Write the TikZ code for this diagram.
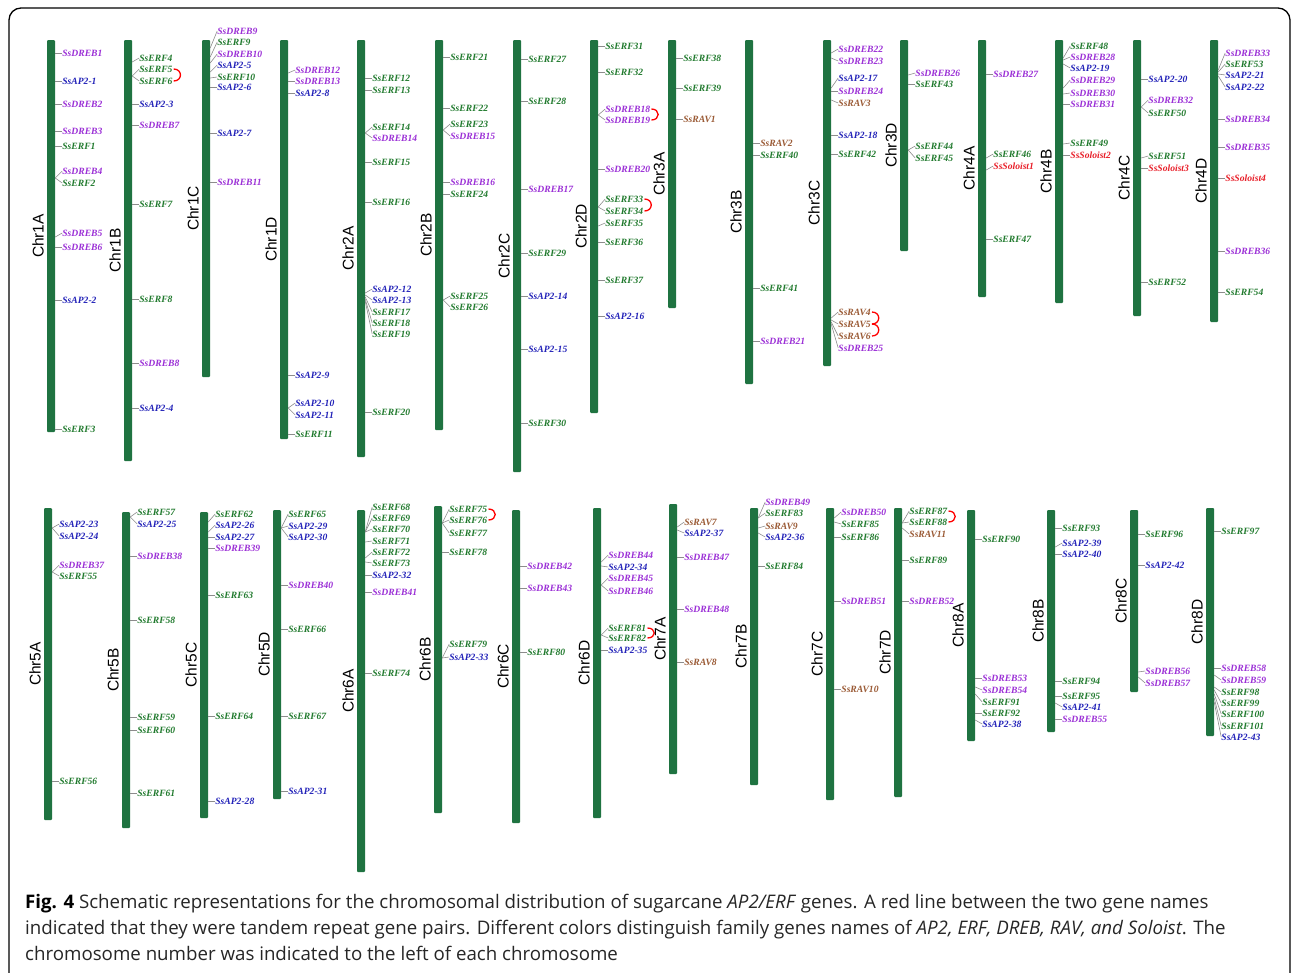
\documentclass[tikz,border=0pt]{standalone}
\usepackage{fontspec}
\setmainfont{Liberation Serif}
\newfontfamily\chrfont{Liberation Sans}
\newfontfamily\capfont{Open Sans}
\usetikzlibrary{positioning}

\definecolor{bargreen}{HTML}{1F7341}
\definecolor{erfgreen}{HTML}{217A2E}
\definecolor{drebpurple}{HTML}{9B30D6}
\definecolor{apblue}{HTML}{2222B8}
\definecolor{ravbrown}{HTML}{9A5A35}
\definecolor{solred}{HTML}{E8202A}
\definecolor{tickgray}{HTML}{8C8C8C}

% chromosome: name, x, top, bottom
\newcommand{\chrom}[4]{%
  \node[chrbar, minimum height={(#4-#3)*1pt}] (#1) at (#2,{(#3+#4)/2}) {};
  \node[chrlabel] (#1-lab) at ([xshift=-13pt]#1.center) {#1};
}
% gene: chromosome, y on bar, y of label, family style, name
\newcommand{\gene}[5]{%
  \node[#4] (#5) at ([xshift=7pt]#1.east |- 0,#3) {#5};
  \draw[tick] (#1.east |- 0,#2) -- (#5.west);
}
% tandem pair
\newcommand{\tandem}[2]{%
  \draw[tandem] ([xshift=1pt]#1.east) .. controls +(9,0) and +(9,0) .. ([xshift=1pt]#2.east);
}

\begin{document}
\begin{tikzpicture}[x=1pt, y=-1pt,
  chrbar/.style={fill=bargreen, draw=none, minimum width=8pt, inner sep=0pt, rounded corners=1pt},
  chrlabel/.style={font=\chrfont\fontsize{15.5}{16}\selectfont, rotate=90, inner sep=0pt},
  genelab/.style={font=\fontsize{9.6}{10}\selectfont\bfseries\itshape, anchor=west, inner sep=0pt},
  erf/.style={genelab, text=erfgreen},
  dreb/.style={genelab, text=drebpurple},
  ap/.style={genelab, text=apblue},
  rav/.style={genelab, text=ravbrown},
  sol/.style={genelab, text=solred},
  tick/.style={draw=tickgray, line width=0.6pt},
  tandem/.style={draw=red, line width=1.3pt},
  caption/.style={font=\capfont\fontsize{18.7}{22}\selectfont, text=black!85, anchor=base west, inner sep=0pt}]
\useasboundingbox (0,0) rectangle (1292,972);
\begin{scope}
  \clip (0,0) rectangle (1292,972);
  \draw[line width=1.3pt, rounded corners=12pt] (9,8) rectangle (1290,1000);
\end{scope}

% ---- row 1
\chrom{Chr1A}{51}{40}{432}
\gene{Chr1A}{53}{53}{dreb}{SsDREB1}
\gene{Chr1A}{81}{81}{ap}{SsAP2-1}
\gene{Chr1A}{104}{104}{dreb}{SsDREB2}
\gene{Chr1A}{131}{131}{dreb}{SsDREB3}
\gene{Chr1A}{146}{146}{erf}{SsERF1}
\gene{Chr1A}{178}{171}{dreb}{SsDREB4}
\gene{Chr1A}{178}{183}{erf}{SsERF2}
\gene{Chr1A}{237}{233}{dreb}{SsDREB5}
\gene{Chr1A}{247}{247}{dreb}{SsDREB6}
\gene{Chr1A}{300}{300}{ap}{SsAP2-2}
\gene{Chr1A}{429}{429}{erf}{SsERF3}

\chrom{Chr1B}{128}{40}{461}
\gene{Chr1B}{62}{58}{erf}{SsERF4}
\gene{Chr1B}{76}{69}{erf}{SsERF5}
\gene{Chr1B}{76}{81}{erf}{SsERF6}
\tandem{SsERF5}{SsERF6}
\gene{Chr1B}{104}{104}{ap}{SsAP2-3}
\gene{Chr1B}{125}{125}{dreb}{SsDREB7}
\gene{Chr1B}{204}{204}{erf}{SsERF7}
\gene{Chr1B}{299}{299}{erf}{SsERF8}
\gene{Chr1B}{363}{363}{dreb}{SsDREB8}
\gene{Chr1B}{408}{408}{ap}{SsAP2-4}

\chrom{Chr1C}{206}{40}{377}
\gene{Chr1C}{48}{31}{dreb}{SsDREB9}
\gene{Chr1C}{57}{42}{erf}{SsERF9}
\gene{Chr1C}{63}{54}{dreb}{SsDREB10}
\gene{Chr1C}{72}{65}{ap}{SsAP2-5}
\gene{Chr1C}{78}{77}{erf}{SsERF10}
\gene{Chr1C}{87}{87}{ap}{SsAP2-6}
\gene{Chr1C}{133}{133}{ap}{SsAP2-7}
\gene{Chr1C}{182}{182}{dreb}{SsDREB11}

\chrom{Chr1D}{284}{40}{439}
\gene{Chr1D}{73}{70}{dreb}{SsDREB12}
\gene{Chr1D}{81}{81}{dreb}{SsDREB13}
\gene{Chr1D}{93}{93}{ap}{SsAP2-8}
\gene{Chr1D}{375}{375}{ap}{SsAP2-9}
\gene{Chr1D}{408}{403}{ap}{SsAP2-10}
\gene{Chr1D}{408}{415}{ap}{SsAP2-11}
\gene{Chr1D}{434}{434}{erf}{SsERF11}

\chrom{Chr2A}{361}{40}{457}
\gene{Chr2A}{78}{78}{erf}{SsERF12}
\gene{Chr2A}{90}{90}{erf}{SsERF13}
\gene{Chr2A}{133}{127}{erf}{SsERF14}
\gene{Chr2A}{133}{138}{dreb}{SsDREB14}
\gene{Chr2A}{162}{162}{erf}{SsERF15}
\gene{Chr2A}{202}{202}{erf}{SsERF16}
\gene{Chr2A}{293}{289}{ap}{SsAP2-12}
\gene{Chr2A}{295}{300}{ap}{SsAP2-13}
\gene{Chr2A}{297}{312}{erf}{SsERF17}
\gene{Chr2A}{299}{323}{erf}{SsERF18}
\gene{Chr2A}{301}{334}{erf}{SsERF19}
\gene{Chr2A}{412}{412}{erf}{SsERF20}

\chrom{Chr2B}{439}{40}{430}
\gene{Chr2B}{57}{57}{erf}{SsERF21}
\gene{Chr2B}{108}{108}{erf}{SsERF22}
\gene{Chr2B}{130}{124}{erf}{SsERF23}
\gene{Chr2B}{130}{136}{dreb}{SsDREB15}
\gene{Chr2B}{182}{182}{dreb}{SsDREB16}
\gene{Chr2B}{194}{194}{erf}{SsERF24}
\gene{Chr2B}{300}{296}{erf}{SsERF25}
\gene{Chr2B}{300}{307}{erf}{SsERF26}

\chrom{Chr2C}{517}{40}{472}
\gene{Chr2C}{59}{59}{erf}{SsERF27}
\gene{Chr2C}{101}{101}{erf}{SsERF28}
\gene{Chr2C}{189}{189}{dreb}{SsDREB17}
\gene{Chr2C}{253}{253}{erf}{SsERF29}
\gene{Chr2C}{296}{296}{ap}{SsAP2-14}
\gene{Chr2C}{349}{349}{ap}{SsAP2-15}
\gene{Chr2C}{423}{423}{erf}{SsERF30}

\chrom{Chr2D}{594}{40}{413}
\gene{Chr2D}{46}{46}{erf}{SsERF31}
\gene{Chr2D}{72}{72}{erf}{SsERF32}
\gene{Chr2D}{115}{109}{dreb}{SsDREB18}
\gene{Chr2D}{115}{120}{dreb}{SsDREB19}
\tandem{SsDREB18}{SsDREB19}
\gene{Chr2D}{169}{169}{dreb}{SsDREB20}
\gene{Chr2D}{207}{199}{erf}{SsERF33}
\gene{Chr2D}{207}{211}{erf}{SsERF34}
\tandem{SsERF33}{SsERF34}
\gene{Chr2D}{226}{223}{erf}{SsERF35}
\gene{Chr2D}{242}{242}{erf}{SsERF36}
\gene{Chr2D}{280}{280}{erf}{SsERF37}
\gene{Chr2D}{316}{316}{ap}{SsAP2-16}

\chrom{Chr3A}{672}{40}{308}
\gene{Chr3A}{58}{58}{erf}{SsERF38}
\gene{Chr3A}{88}{88}{erf}{SsERF39}
\gene{Chr3A}{119}{119}{rav}{SsRAV1}

\chrom{Chr3B}{749}{40}{384}
\gene{Chr3B}{143}{143}{rav}{SsRAV2}
\gene{Chr3B}{155}{155}{erf}{SsERF40}
\gene{Chr3B}{288}{288}{erf}{SsERF41}
\gene{Chr3B}{341}{341}{dreb}{SsDREB21}

\chrom{Chr3C}{827}{40}{366}
\gene{Chr3C}{53}{49}{dreb}{SsDREB22}
\gene{Chr3C}{58}{61}{dreb}{SsDREB23}
\gene{Chr3C}{88}{78}{ap}{SsAP2-17}
\gene{Chr3C}{91}{91}{dreb}{SsDREB24}
\gene{Chr3C}{100}{103}{rav}{SsRAV3}
\gene{Chr3C}{135}{135}{ap}{SsAP2-18}
\gene{Chr3C}{154}{154}{erf}{SsERF42}
\gene{Chr3C}{318}{312}{rav}{SsRAV4}
\gene{Chr3C}{320}{324}{rav}{SsRAV5}
\gene{Chr3C}{322}{336}{rav}{SsRAV6}
\gene{Chr3C}{324}{348}{dreb}{SsDREB25}
\tandem{SsRAV4}{SsRAV5}
\tandem{SsRAV5}{SsRAV6}

\chrom{Chr3D}{904}{40}{251}
\gene{Chr3D}{75}{73}{dreb}{SsDREB26}
\gene{Chr3D}{84}{84}{erf}{SsERF43}
\gene{Chr3D}{150}{146}{erf}{SsERF44}
\gene{Chr3D}{150}{158}{erf}{SsERF45}

\chrom{Chr4A}{982}{40}{297}
\gene{Chr4A}{74}{74}{dreb}{SsDREB27}
\gene{Chr4A}{158}{154}{erf}{SsERF46}
\gene{Chr4A}{170}{166}{sol}{SsSoloist1}
\gene{Chr4A}{239}{239}{erf}{SsERF47}

\chrom{Chr4B}{1059}{40}{303}
\gene{Chr4B}{58}{46}{erf}{SsERF48}
\gene{Chr4B}{60}{57}{dreb}{SsDREB28}
\gene{Chr4B}{64}{68}{ap}{SsAP2-19}
\gene{Chr4B}{88}{80}{dreb}{SsDREB29}
\gene{Chr4B}{94}{93}{dreb}{SsDREB30}
\gene{Chr4B}{104}{104}{dreb}{SsDREB31}
\gene{Chr4B}{144}{143}{erf}{SsERF49}
\gene{Chr4B}{155}{155}{sol}{SsSoloist2}

\chrom{Chr4C}{1137}{40}{316}
\gene{Chr4C}{79}{79}{ap}{SsAP2-20}
\gene{Chr4C}{107}{100}{dreb}{SsDREB32}
\gene{Chr4C}{107}{113}{erf}{SsERF50}
\gene{Chr4C}{158}{156}{erf}{SsERF51}
\gene{Chr4C}{168}{168}{sol}{SsSoloist3}
\gene{Chr4C}{282}{282}{erf}{SsERF52}

\chrom{Chr4D}{1214}{40}{322}
\gene{Chr4D}{70}{53}{dreb}{SsDREB33}
\gene{Chr4D}{72}{64}{erf}{SsERF53}
\gene{Chr4D}{74}{75}{ap}{SsAP2-21}
\gene{Chr4D}{76}{87}{ap}{SsAP2-22}
\gene{Chr4D}{119}{119}{dreb}{SsDREB34}
\gene{Chr4D}{147}{147}{dreb}{SsDREB35}
\gene{Chr4D}{178}{178}{sol}{SsSoloist4}
\gene{Chr4D}{251}{251}{dreb}{SsDREB36}
\gene{Chr4D}{292}{292}{erf}{SsERF54}

% ---- row 2
\chrom{Chr5A}{48}{508}{820}
\gene{Chr5A}{528}{524}{ap}{SsAP2-23}
\gene{Chr5A}{528}{536}{ap}{SsAP2-24}
\gene{Chr5A}{572}{565}{dreb}{SsDREB37}
\gene{Chr5A}{572}{576}{erf}{SsERF55}
\gene{Chr5A}{781}{781}{erf}{SsERF56}

\chrom{Chr5B}{126}{512}{828}
\gene{Chr5B}{517}{512}{erf}{SsERF57}
\gene{Chr5B}{517}{524}{ap}{SsAP2-25}
\gene{Chr5B}{556}{556}{dreb}{SsDREB38}
\gene{Chr5B}{620}{620}{erf}{SsERF58}
\gene{Chr5B}{717}{717}{erf}{SsERF59}
\gene{Chr5B}{730}{730}{erf}{SsERF60}
\gene{Chr5B}{793}{793}{erf}{SsERF61}

\chrom{Chr5C}{204}{512}{818}
\gene{Chr5C}{522}{514}{erf}{SsERF62}
\gene{Chr5C}{532}{525}{ap}{SsAP2-26}
\gene{Chr5C}{537}{537}{ap}{SsAP2-27}
\gene{Chr5C}{548}{548}{dreb}{SsDREB39}
\gene{Chr5C}{595}{595}{erf}{SsERF63}
\gene{Chr5C}{716}{716}{erf}{SsERF64}
\gene{Chr5C}{801}{801}{ap}{SsAP2-28}

\chrom{Chr5D}{277}{510}{799}
\gene{Chr5D}{528}{514}{erf}{SsERF65}
\gene{Chr5D}{528}{526}{ap}{SsAP2-29}
\gene{Chr5D}{528}{537}{ap}{SsAP2-30}
\gene{Chr5D}{585}{585}{dreb}{SsDREB40}
\gene{Chr5D}{629}{629}{erf}{SsERF66}
\gene{Chr5D}{716}{716}{erf}{SsERF67}
\gene{Chr5D}{791}{791}{ap}{SsAP2-31}

\chrom{Chr6A}{361}{510}{872}
\gene{Chr6A}{532}{507}{erf}{SsERF68}
\gene{Chr6A}{532}{518}{erf}{SsERF69}
\gene{Chr6A}{532}{529}{erf}{SsERF70}
\gene{Chr6A}{542}{541}{erf}{SsERF71}
\gene{Chr6A}{558}{552}{erf}{SsERF72}
\gene{Chr6A}{562}{563}{erf}{SsERF73}
\gene{Chr6A}{575}{575}{ap}{SsAP2-32}
\gene{Chr6A}{592}{592}{dreb}{SsDREB41}
\gene{Chr6A}{673}{673}{erf}{SsERF74}

\chrom{Chr6B}{438}{506}{813}
\gene{Chr6B}{523}{509}{erf}{SsERF75}
\gene{Chr6B}{523}{520}{erf}{SsERF76}
\gene{Chr6B}{523}{533}{erf}{SsERF77}
\tandem{SsERF75}{SsERF76}
\gene{Chr6B}{552}{552}{erf}{SsERF78}
\gene{Chr6B}{658}{644}{erf}{SsERF79}
\gene{Chr6B}{658}{657}{ap}{SsAP2-33}

\chrom{Chr6C}{516}{510}{823}
\gene{Chr6C}{566}{566}{dreb}{SsDREB42}
\gene{Chr6C}{588}{588}{dreb}{SsDREB43}
\gene{Chr6C}{652}{652}{erf}{SsERF80}

\chrom{Chr6D}{597}{508}{818}
\gene{Chr6D}{562}{555}{dreb}{SsDREB44}
\gene{Chr6D}{566}{567}{ap}{SsAP2-34}
\gene{Chr6D}{585}{578}{dreb}{SsDREB45}
\gene{Chr6D}{585}{591}{dreb}{SsDREB46}
\gene{Chr6D}{635}{628}{erf}{SsERF81}
\gene{Chr6D}{635}{638}{erf}{SsERF82}
\tandem{SsERF81}{SsERF82}
\gene{Chr6D}{650}{650}{ap}{SsAP2-35}

\chrom{Chr7A}{673}{504}{774}
\gene{Chr7A}{527}{522}{rav}{SsRAV7}
\gene{Chr7A}{530}{533}{ap}{SsAP2-37}
\gene{Chr7A}{557}{557}{dreb}{SsDREB47}
\gene{Chr7A}{609}{609}{dreb}{SsDREB48}
\gene{Chr7A}{662}{662}{rav}{SsRAV8}

\chrom{Chr7B}{754}{508}{785}
\gene{Chr7B}{518}{502}{dreb}{SsDREB49}
\gene{Chr7B}{518}{513}{erf}{SsERF83}
\gene{Chr7B}{528}{526}{rav}{SsRAV9}
\gene{Chr7B}{533}{537}{ap}{SsAP2-36}
\gene{Chr7B}{566}{566}{erf}{SsERF84}

\chrom{Chr7C}{830}{508}{800}
\gene{Chr7C}{518}{512}{dreb}{SsDREB50}
\gene{Chr7C}{522}{524}{erf}{SsERF85}
\gene{Chr7C}{537}{537}{erf}{SsERF86}
\gene{Chr7C}{601}{601}{dreb}{SsDREB51}
\gene{Chr7C}{689}{689}{rav}{SsRAV10}

\chrom{Chr7D}{898}{508}{797}
\gene{Chr7D}{523}{511}{erf}{SsERF87}
\gene{Chr7D}{523}{522}{erf}{SsERF88}
\tandem{SsERF87}{SsERF88}
\gene{Chr7D}{528}{534}{rav}{SsRAV11}
\gene{Chr7D}{560}{560}{erf}{SsERF89}
\gene{Chr7D}{601}{601}{dreb}{SsDREB52}

\chrom{Chr8A}{971}{510}{741}
\gene{Chr8A}{539}{539}{erf}{SsERF90}
\gene{Chr8A}{678}{678}{dreb}{SsDREB53}
\gene{Chr8A}{687}{690}{dreb}{SsDREB54}
\gene{Chr8A}{694}{702}{erf}{SsERF91}
\gene{Chr8A}{713}{713}{erf}{SsERF92}
\gene{Chr8A}{720}{724}{ap}{SsAP2-38}

\chrom{Chr8B}{1051}{510}{732}
\gene{Chr8B}{528}{528}{erf}{SsERF93}
\gene{Chr8B}{547}{543}{ap}{SsAP2-39}
\gene{Chr8B}{554}{554}{ap}{SsAP2-40}
\gene{Chr8B}{681}{681}{erf}{SsERF94}
\gene{Chr8B}{696}{696}{erf}{SsERF95}
\gene{Chr8B}{703}{707}{ap}{SsAP2-41}
\gene{Chr8B}{719}{719}{dreb}{SsDREB55}

\chrom{Chr8C}{1134}{510}{692}
\gene{Chr8C}{534}{534}{erf}{SsERF96}
\gene{Chr8C}{565}{565}{ap}{SsAP2-42}
\gene{Chr8C}{672}{671}{dreb}{SsDREB56}
\gene{Chr8C}{677}{683}{dreb}{SsDREB57}

\chrom{Chr8D}{1210}{508}{736}
\gene{Chr8D}{531}{531}{erf}{SsERF97}
\gene{Chr8D}{668}{668}{dreb}{SsDREB58}
\gene{Chr8D}{675}{680}{dreb}{SsDREB59}
\gene{Chr8D}{687}{692}{erf}{SsERF98}
\gene{Chr8D}{690}{703}{erf}{SsERF99}
\gene{Chr8D}{694}{714}{erf}{SsERF100}
\gene{Chr8D}{698}{726}{erf}{SsERF101}
\gene{Chr8D}{702}{737}{ap}{SsAP2-43}

% ---- caption
\node[caption] (cap1) at (25,908) {{\color{black}\bfseries Fig. 4} Schematic representations for the chromosomal distribution of sugarcane \textit{AP2/ERF} genes. A red line between the two gene names};
\node[caption] (cap2) at (25,934) {indicated that they were tandem repeat gene pairs. Different colors distinguish family genes names of \textit{AP2, ERF, DREB, RAV, and Soloist}. The};
\node[caption] (cap3) at (25,960) {chromosome number was indicated to the left of each chromosome};
\end{tikzpicture}
\end{document}
